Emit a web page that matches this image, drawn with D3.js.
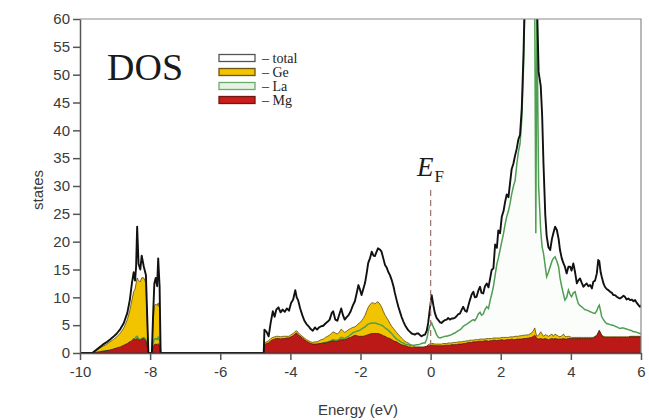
<!DOCTYPE html>
<html>
<head>
<meta charset="utf-8">
<script src="https://cdn.jsdelivr.net/npm/d3@7"></script>
<style>
  body { margin: 0; background: #fff; }
  svg { display: block; }
</style>
</head>
<body>
<svg id="chart"></svg>
<script>
var width = 649;
var height = 420;

// energy grid (eV)
var energy = [
  -10, -9.65, -9.55, -9.45, -9.35, -9.25, -9.15, -9.05, -8.95, -8.85, -8.75, -8.65, -8.58, -8.52, -8.47, -8.43, -8.40, -8.37, -8.33, -8.28, -8.24, -8.18, -8.12, -8.08, -8.05, -7.95, -7.92, -7.88, -7.84, -7.80, -7.77, -7.73, -7.70,
  -4.76, -4.74, -4.68, -4.62, -4.56, -4.50, -4.45, -4.40, -4.34, -4.28, -4.22, -4.16, -4.10, -4.04, -3.98, -3.92, -3.86, -3.82, -3.78, -3.72, -3.66, -3.60, -3.54, -3.48, -3.42, -3.36, -3.30, -3.24, -3.18, -3.12, -3.06, -3.00, -2.94, -2.88, -2.82, -2.78, -2.72, -2.66, -2.60, -2.55, -2.50, -2.45, -2.40, -2.34, -2.28, -2.22, -2.16, -2.10, -2.06, -2.02,
  -1.97, -1.92, -1.87, -1.82, -1.78, -1.73, -1.68, -1.63, -1.59, -1.54, -1.50, -1.45, -1.40, -1.35, -1.30, -1.25, -1.21, -1.16, -1.11, -1.06, -1.02, -0.97, -0.92, -0.87, -0.83, -0.78, -0.73, -0.68, -0.64, -0.59, -0.54, -0.49, -0.45, -0.40, -0.35, -0.30, -0.26, -0.21, -0.16, -0.11, -0.07, -0.03, 0.03, 0.08, 0.12, 0.17, 0.22, 0.27, 0.31, 0.36, 0.41, 0.46, 0.50, 0.55, 0.60, 0.65, 0.69, 0.74, 0.79, 0.84, 0.88, 0.93, 0.98,
  1.03, 1.08, 1.12, 1.17, 1.22, 1.26, 1.31, 1.36, 1.41, 1.45, 1.50, 1.55, 1.60, 1.65, 1.70, 1.74, 1.79, 1.84, 1.89, 1.93, 1.98, 2.03, 2.08, 2.12, 2.17, 2.22, 2.27, 2.31, 2.36, 2.41, 2.46, 2.50, 2.55, 2.60, 2.65,
  2.70, 2.80, 2.88, 2.93, 2.97, 3.00, 3.03, 3.08, 3.14, 3.18, 3.22, 3.27, 3.31, 3.36, 3.41, 3.46, 3.50, 3.55, 3.60, 3.65, 3.69, 3.74, 3.79, 3.83, 3.88, 3.93, 3.98, 4.02, 4.07, 4.12, 4.17, 4.21, 4.26, 4.31, 4.36, 4.40, 4.45, 4.50, 4.55, 4.60, 4.64, 4.69, 4.74, 4.78, 4.81, 4.85, 4.88, 4.93, 4.97, 5.02, 5.07, 5.12, 5.17, 5.21, 5.26, 5.31, 5.36, 5.40, 5.45, 5.50, 5.54, 5.59, 5.64, 5.69, 5.74, 5.78, 5.83, 5.88, 5.93, 5.97, 6.00
];

var totalDos = [
  0, 0, 0.5, 1.0, 1.5, 1.9, 2.4, 2.9, 3.5, 4.3, 5.4, 7.2, 9.5, 12.5, 14.5, 13.0, 15.5, 22.7, 16.0, 15.0, 17.5, 15.5, 14.0, 6.0, 0, 0, 6.0, 12.5, 13.5, 12.0, 17.0, 12.0, 0,
  0, 4.2, 3.8, 3.0, 5.5, 7.5, 6.5, 7.8, 8.2, 7.3, 7.8, 7.4, 8.0, 7.6, 9.0, 9.6, 11.3, 10.0, 9.5, 8.0, 6.8, 5.8, 5.2, 4.8, 4.3, 4.0, 4.6, 4.2, 4.6, 4.8, 4.9, 5.3, 5.6, 6.0, 7.2, 7.5, 6.0, 5.8, 7.0, 8.0, 6.8, 6.0, 6.4, 6.8, 7.5, 8.5, 9.3, 11.0, 12.2, 11.5,
  10.4, 11.5, 12.6, 14.5, 16.2, 17.0, 18.2, 17.5, 17.4, 18.2, 18.8, 18.6, 18.2, 17.0, 15.8, 15.3, 14.6, 14.0, 13.1, 12.0, 10.8, 9.5, 8.3, 7.3, 6.5, 5.7, 5.0, 4.5, 4.1, 3.8, 3.5, 3.4, 3.3, 3.5, 3.5, 3.2, 3.0, 3.2, 3.3, 4.0, 5.4, 7.5, 10.4, 8.5, 7.2, 6.3, 5.9, 5.5, 5.4, 5.7, 5.9, 6.0, 6.3, 6.0, 6.2, 6.2, 6.3, 6.6, 7.0, 7.1, 7.7, 8.3, 7.6,
  7.4, 8.6, 9.5, 10.5, 11.0, 10.0, 10.1, 11.2, 11.9, 10.8, 10.7, 12.0, 12.5, 11.8, 13.5, 14.9, 15.2, 19.5, 18.9, 22.0, 21.5, 24.5, 25.5, 27.0, 28.5, 28.0, 30.8, 33.0, 34.0, 35.5, 36.8, 38.3, 39.2, 44.0, 54.0,
  68, 85, 80, 72, 68, 65, 64, 50.5, 48, 42.8, 33.8, 24.8, 21.0, 19.0, 18.5, 20.5, 21.5, 22.7, 22.1, 20.5, 18.5, 17.0, 16.1, 15.5, 14.3, 15.5, 15.5, 14.8, 16.1, 14.5, 12.5, 13.0, 13.4, 12.6, 11.9, 12.2, 12.5, 12.0, 12.2, 11.6, 12.8, 13.0, 14.3, 16.7, 16.5, 14.5, 13.7, 12.5, 11.9, 11.5, 11.3, 11.0, 10.8, 10.4, 10.4, 10.1, 9.9, 9.8, 10.0, 10.3, 10.1, 9.6, 9.8, 9.5, 9.6, 9.3, 9.5, 9.0, 8.6, 8.3, 8.6
];

var geDos = [
  0, 0, 0.4, 0.8, 1.2, 1.5, 2.0, 2.4, 2.9, 3.6, 4.5, 6.0, 7.6, 9.5, 11.0, 11.5, 12.5, 13.5, 13.0, 12.8, 13.5, 13.5, 12.5, 5.0, 0, 0, 5.0, 8.5, 8.8, 8.5, 9.0, 8.0, 0,
  0, 1.8, 2.0, 2.2, 2.6, 2.8, 2.9, 3.0, 3.0, 2.9, 3.0, 3.0, 3.0, 3.0, 3.3, 3.5, 3.9, 4.0, 3.7, 3.3, 3.0, 2.7, 2.4, 2.2, 2.0, 1.9, 2.0, 2.0, 2.2, 2.4, 2.5, 2.8, 3.0, 3.2, 3.6, 3.8, 3.6, 3.4, 3.8, 4.3, 4.0, 3.7, 3.9, 4.2, 4.4, 4.6, 4.7, 5.0, 5.3, 5.4,
  5.8, 6.2, 6.8, 7.6, 8.2, 8.7, 9.0, 9.0, 8.8, 9.1, 9.2, 8.8, 8.3, 7.5, 6.8, 6.3, 5.9, 5.3, 4.8, 4.4, 4.1, 3.7, 3.3, 3.0, 2.7, 2.4, 2.1, 1.9, 1.8, 1.6, 1.4, 1.2, 1.1, 1.1, 1.1, 1.1, 1.1, 1.1, 1.1, 1.2, 1.5, 1.6, 1.7, 1.7, 1.6, 1.6, 1.6, 1.6, 1.6, 1.7, 1.7, 1.7, 1.8, 1.8, 1.8, 1.9, 1.9, 1.9, 2.0, 2.0, 2.0, 2.1, 2.1,
  2.2, 2.2, 2.3, 2.3, 2.3, 2.4, 2.4, 2.4, 2.5, 2.5, 2.5, 2.5, 2.6, 2.6, 2.6, 2.6, 2.7, 2.7, 2.7, 2.7, 2.7, 2.8, 2.8, 2.8, 2.8, 2.8, 2.9, 2.9, 2.9, 3.0, 3.0, 3.0, 3.1, 3.1, 3.2,
  3.2, 3.3, 3.6, 4.0, 4.5, 3.6, 3.0, 3.2, 3.8, 3.4, 3.0, 3.3, 3.2, 3.0, 3.2, 3.4, 3.0, 3.4, 3.2, 3.0, 2.9, 3.1, 3.4, 3.0, 2.9, 3.0, 2.9, 2.8, 2.8, 2.8, 2.8, 2.8, 2.8, 2.8, 2.8, 2.8, 2.8, 2.8, 2.8, 2.8, 2.8, 3.0, 3.2, 3.7, 4.1, 3.6, 3.2, 3.0, 2.9, 2.9, 2.9, 2.9, 2.9, 2.9, 2.9, 2.9, 2.9, 2.9, 2.9, 2.9, 2.9, 2.9, 2.9, 3.0, 3.0, 3.0, 3.0, 3.0, 3.0, 3.0, 3.0
];

var laDos = [
  0, 0, 0.1, 0.2, 0.3, 0.4, 0.5, 0.6, 0.8, 0.9, 1.0, 1.3, 1.6, 1.9, 2.4, 2.6, 2.9, 3.0, 2.6, 2.4, 2.6, 2.8, 2.5, 1.0, 0, 0, 1.5, 2.5, 2.6, 2.4, 2.8, 2.2, 0,
  0, 1.5, 1.5, 1.6, 1.7, 1.8, 1.8, 1.9, 1.9, 1.8, 1.9, 1.9, 2.0, 2.0, 2.1, 2.2, 2.3, 2.3, 2.2, 2.0, 1.9, 1.8, 1.7, 1.6, 1.5, 1.4, 1.5, 1.5, 1.6, 1.7, 1.8, 1.9, 2.0, 2.1, 2.3, 2.4, 2.3, 2.3, 2.5, 2.8, 2.7, 2.6, 2.8, 3.0, 3.3, 3.6, 3.8, 3.9, 4.0, 4.1,
  4.3, 4.5, 4.7, 5.0, 5.2, 5.3, 5.4, 5.4, 5.4, 5.3, 5.2, 5.1, 5.0, 4.8, 4.5, 4.3, 4.1, 3.8, 3.5, 3.1, 2.8, 2.5, 2.3, 2.1, 1.9, 1.8, 1.6, 1.5, 1.5, 1.4, 1.4, 1.4, 1.4, 1.5, 1.5, 1.6, 1.7, 1.8, 1.8, 2.5, 3.8, 4.8, 5.4, 4.6, 4.1, 3.3, 2.8, 2.7, 2.8, 2.9, 3.0, 3.0, 3.1, 3.2, 3.3, 3.5, 3.6, 3.8, 4.0, 4.2, 4.4, 4.8, 5.0,
  5.2, 5.4, 5.6, 5.8, 6.0, 5.8, 6.3, 7.0, 7.3, 6.8, 7.0, 7.8, 8.3, 8.0, 9.5, 10.5, 11.9, 14.0, 16.0, 17.0, 18.5, 20.0, 21.5, 23.0, 24.5, 25.5, 27.0, 28.5, 29.9, 31.0, 34.0, 36.0, 37.6, 42.0, 51.4,
  66, 80, 72, 68, 62, 21.5, 62, 30, 22, 19, 17.9, 15.5, 13.7, 14.5, 15.5, 16.5, 17.0, 17.3, 16.5, 15.5, 13.5, 11.9, 10.5, 9.5, 10.0, 11.3, 10.5, 10.1, 10.8, 11.0, 9.8, 8.9, 8.5, 8.3, 8.0, 7.8, 7.7, 7.6, 7.4, 7.3, 7.2, 7.1, 7.6, 8.3, 8.6, 7.5, 6.5, 6.0, 5.6, 5.3, 5.2, 5.1, 5.0, 5.0, 4.8, 4.7, 4.5, 4.4, 4.5, 4.5, 4.4, 4.3, 4.2, 4.1, 4.0, 3.8, 3.8, 3.7, 3.6, 3.5, 3.5
];

var mgDos = [
  0, 0, 0.1, 0.2, 0.3, 0.4, 0.5, 0.7, 0.9, 1.1, 1.4, 1.7, 2.0, 2.2, 2.6, 2.3, 2.5, 2.6, 2.4, 2.3, 2.5, 2.6, 2.2, 1.0, 0, 0, 1.0, 1.5, 1.6, 1.5, 1.7, 1.3, 0,
  0, 1.5, 1.7, 1.8, 2.2, 2.4, 2.5, 2.6, 2.6, 2.5, 2.6, 2.6, 2.7, 2.7, 2.9, 3.1, 3.5, 3.6, 3.3, 3.0, 2.7, 2.4, 2.1, 1.9, 1.7, 1.6, 1.6, 1.6, 1.7, 1.7, 1.8, 1.8, 1.9, 2.0, 2.1, 2.2, 2.1, 2.1, 2.3, 2.4, 2.4, 2.4, 2.5, 2.7, 2.8, 3.0, 3.2, 3.1, 3.0, 3.0,
  3.0, 3.0, 3.1, 3.2, 3.3, 3.4, 3.5, 3.5, 3.5, 3.5, 3.5, 3.4, 3.3, 3.1, 3.0, 2.8, 2.7, 2.6, 2.4, 2.2, 2.1, 2.0, 1.8, 1.6, 1.5, 1.4, 1.3, 1.2, 1.1, 1.1, 1.0, 1.0, 1.0, 1.0, 1.0, 1.0, 1.0, 1.0, 1.1, 1.2, 1.3, 1.3, 1.4, 1.4, 1.3, 1.3, 1.3, 1.3, 1.3, 1.3, 1.4, 1.4, 1.4, 1.4, 1.5, 1.5, 1.5, 1.5, 1.6, 1.6, 1.6, 1.7, 1.7,
  1.8, 1.9, 1.9, 1.9, 2.0, 2.0, 2.0, 2.1, 2.1, 2.1, 2.1, 2.2, 2.2, 2.1, 2.2, 2.2, 2.3, 2.3, 2.2, 2.3, 2.3, 2.4, 2.3, 2.3, 2.4, 2.4, 2.4, 2.5, 2.4, 2.4, 2.5, 2.5, 2.5, 2.5, 2.6,
  2.6, 2.7, 2.8, 3.0, 3.2, 2.9, 2.6, 2.5, 2.6, 2.5, 2.5, 2.6, 2.5, 2.4, 2.5, 2.6, 2.5, 2.6, 2.5, 2.5, 2.5, 2.5, 2.6, 2.5, 2.5, 2.6, 2.6, 2.6, 2.6, 2.6, 2.6, 2.6, 2.6, 2.6, 2.6, 2.6, 2.6, 2.6, 2.6, 2.6, 2.7, 2.9, 3.1, 3.6, 4.0, 3.5, 3.1, 2.9, 2.8, 2.8, 2.8, 2.8, 2.8, 2.8, 2.8, 2.8, 2.8, 2.8, 2.8, 2.8, 2.8, 2.8, 2.8, 2.9, 2.9, 2.9, 2.9, 2.9, 2.9, 2.9, 2.9
];

var xTicks = [-10, -8, -6, -4, -2, 0, 2, 4, 6];
var yTicks = [0, 5, 10, 15, 20, 25, 30, 35, 40, 45, 50, 55, 60];
var legendNames = ["total", "Ge", "La", "Mg"];

if (![totalDos, geDos, laDos, mgDos].every(a => a.length === energy.length)) {
  console.warn("length mismatch", energy.length, totalDos.length, geDos.length, laDos.length, mgDos.length);
}

var rows = energy.map((e, i) => ({ e: e, total: totalDos[i], ge: geDos[i], la: laDos[i], mg: mgDos[i] }));

var plotLeft = 80, plotRight = 641, plotTop = 19, plotBottom = 353;

var xScale = d3.scaleLinear().domain([-10, 6]).range([plotLeft, plotRight]);
var yScale = d3.scaleLinear().domain([0, 60]).range([plotBottom, plotTop]);

var svg = d3.select("#chart")
    .attr("width", width)
    .attr("height", height);

svg.append("defs").append("clipPath")
    .attr("id", "plotClip")
  .append("rect")
    .attr("x", plotLeft)
    .attr("y", plotTop)
    .attr("width", plotRight - plotLeft)
    .attr("height", plotBottom - plotTop);

var plot = svg.append("g").attr("clip-path", "url(#plotClip)");

function areaOf(key) {
  return d3.area()
      .x(d => xScale(d.e))
      .y0(yScale(0))
      .y1(d => yScale(d[key]));
}
function lineOf(key) {
  return d3.line()
      .x(d => xScale(d.e))
      .y(d => yScale(d[key]));
}

// total: white fill
plot.append("path").datum(rows)
    .attr("d", areaOf("total"))
    .attr("fill", "#ffffff");

// La fill, almost white
plot.append("path").datum(rows)
    .attr("d", areaOf("la"))
    .attr("fill", "#fbfdfa");

// Ge
plot.append("path").datum(rows)
    .attr("d", areaOf("ge"))
    .attr("fill", "#f2c400")
    .attr("stroke", "#5a4a10")
    .attr("stroke-width", 0.8);

// La line
plot.append("path").datum(rows)
    .attr("d", lineOf("la"))
    .attr("fill", "none")
    .attr("stroke", "#4f9e52")
    .attr("stroke-width", 1.5);

// Mg
plot.append("path").datum(rows)
    .attr("d", areaOf("mg"))
    .attr("fill", "#bb1818")
    .attr("stroke", "#4a1a10")
    .attr("stroke-width", 0.8);

// total line
plot.append("path").datum(rows)
    .attr("d", lineOf("total"))
    .attr("fill", "none")
    .attr("stroke", "#111")
    .attr("stroke-width", 1.9)
    .attr("stroke-linejoin", "round");

// frame top + right
svg.append("path")
    .attr("d", "M" + plotLeft + "," + plotTop + "H" + plotRight + "V" + plotBottom)
    .attr("fill", "none")
    .attr("stroke", "#8a8a8a")
    .attr("stroke-width", 1.2);

var xAxis = d3.axisBottom(xScale)
    .tickValues(xTicks)
    .tickSize(7)
    .tickSizeOuter(0)
    .tickPadding(6)
    .tickFormat(d3.format("d"));
var yAxis = d3.axisLeft(yScale)
    .tickValues(yTicks)
    .tickSize(7)
    .tickSizeOuter(0)
    .tickPadding(3);

var gx = svg.append("g")
    .attr("transform", "translate(0," + plotBottom + ")")
    .call(xAxis);
var gy = svg.append("g")
    .attr("transform", "translate(" + plotLeft + ",0)")
    .call(yAxis);

[gx, gy].forEach(g => {
  g.select(".domain").attr("stroke", "#555").attr("stroke-width", 1.5);
  g.selectAll(".tick line").attr("stroke", "#555").attr("stroke-width", 1.5);
  g.selectAll(".tick text")
      .attr("fill", "#3a3a3a")
      .style("font-family", "'Liberation Sans', Arial, sans-serif")
      .style("font-size", "15px");
});
gx.selectAll(".tick text").text(d => d < 0 ? "-" + Math.abs(d) : d);

// axis titles
svg.append("text")
    .attr("x", 358)
    .attr("y", 415)
    .style("text-anchor", "middle")
    .style("font-family", "'Liberation Sans', Arial, sans-serif")
    .style("font-size", "15px")
    .attr("fill", "#3a3a3a")
    .text("Energy (eV)");

svg.append("text")
    .attr("transform", "rotate(-90)")
    .attr("x", -190)
    .attr("y", 43)
    .style("text-anchor", "middle")
    .style("font-family", "'Liberation Sans', Arial, sans-serif")
    .style("font-size", "15px")
    .attr("fill", "#3a3a3a")
    .text("states");

// DOS title
svg.append("text")
    .attr("x", 107)
    .attr("y", 80)
    .style("font-family", "'Liberation Serif', 'Times New Roman', serif")
    .style("font-size", "38px")
    .attr("fill", "#1a1a1a")
    .text("DOS");

// legend
var legendFill = { total: "#ffffff", Ge: "#f2c400", La: "#e6f3e4", Mg: "#cc1c1c" };
var legendStroke = { total: "#555", Ge: "#6a5410", La: "#6aaa6a", Mg: "#6a1a10" };
var legend = svg.append("g").attr("transform", "translate(219,58)");
var item = legend.selectAll("g")
    .data(legendNames)
    .enter()
    .append("g")
      .attr("transform", (d, i) => "translate(0," + (i * 14) + ")");
item.append("rect")
    .attr("x", 0)
    .attr("y", -3.5)
    .attr("width", 36)
    .attr("height", 7)
    .attr("fill", d => legendFill[d])
    .attr("stroke", d => legendStroke[d])
    .attr("stroke-width", 1.3);
item.append("text")
    .attr("x", 43)
    .attr("y", 4.5)
    .style("font-family", "'Liberation Serif', 'Times New Roman', serif")
    .style("font-size", "14px")
    .attr("fill", "#222")
    .text(d => "\u2013 " + d);

// Fermi level
svg.append("line")
    .attr("x1", xScale(0))
    .attr("x2", xScale(0))
    .attr("y1", 190)
    .attr("y2", yScale(1.5))
    .attr("stroke", "#a07878")
    .attr("stroke-width", 1.3)
    .attr("stroke-dasharray", "6,4");

var ef = svg.append("text")
    .attr("x", 417)
    .attr("y", 176)
    .style("font-family", "'Liberation Serif', 'Times New Roman', serif")
    .attr("fill", "#1a1a1a");
ef.append("tspan")
    .style("font-style", "italic")
    .style("font-size", "27px")
    .text("E");
ef.append("tspan")
    .attr("dy", 6)
    .attr("dx", 1)
    .style("font-size", "17px")
    .text("F");
</script>
</body>
</html>
